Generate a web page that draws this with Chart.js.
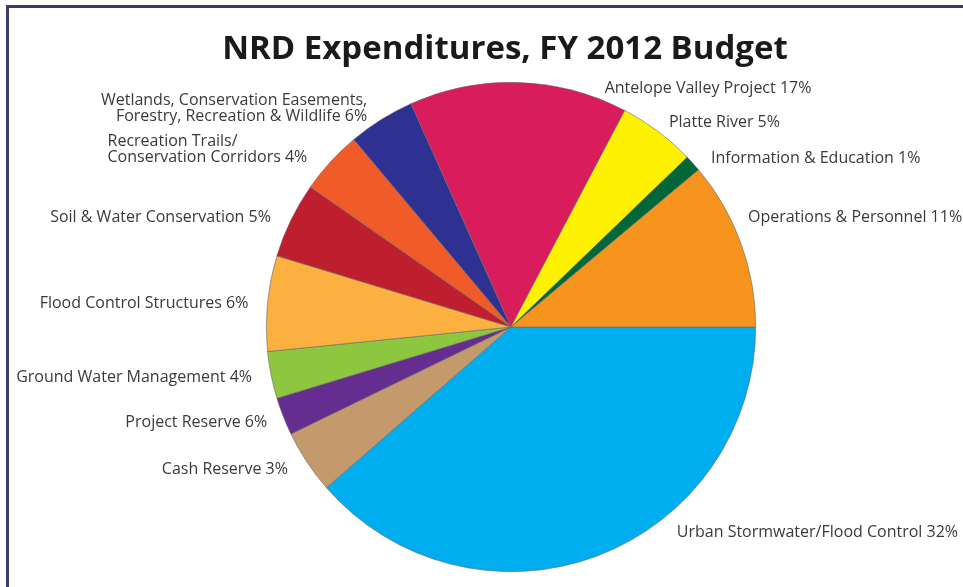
<!DOCTYPE html>
<html>
<head>
<meta charset="utf-8">
<script src="https://cdn.jsdelivr.net/npm/chart.js@4/dist/chart.umd.min.js"></script>
<style>
  html, body { margin: 0; padding: 0; background: #ffffff; }
  #wrap { position: relative; width: 963px; height: 587px; }
</style>
</head>
<body>
<div id="wrap"><canvas id="c" width="963" height="587"></canvas></div>
<script>
// ---- data (clockwise from 3 o'clock) ----
const categories = [
  "Urban Stormwater/Flood Control",
  "Cash Reserve",
  "Project Reserve",
  "Ground Water Management",
  "Flood Control Structures",
  "Soil & Water Conservation",
  "Recreation Trails/ Conservation Corridors",
  "Wetlands, Conservation Easements, Forestry, Recreation & Wildlife",
  "Antelope Valley Project",
  "Platte River",
  "Information & Education",
  "Operations & Personnel"
];
// slice sizes as drawn in the picture (share of the circle, %)
const sliceValues = [38.6, 4.2, 2.5, 3.1, 6.3, 5.0, 4.2, 4.4, 14.4, 5.1, 1.1, 11.1];
// percentages printed in the labels
const printedPercents = [32, 3, 6, 4, 6, 5, 4, 6, 17, 5, 1, 11];
// label text lines
const labelLines = [
  ["Urban Stormwater/Flood Control 32%"],
  ["Cash Reserve 3%"],
  ["Project Reserve 6%"],
  ["Ground Water Management 4%"],
  ["Flood Control Structures 6%"],
  ["Soil & Water Conservation 5%"],
  ["Recreation Trails/", "Conservation Corridors 4%"],
  ["Wetlands, Conservation Easements,", "Forestry, Recreation & Wildlife 6%"],
  ["Antelope Valley Project 17%"],
  ["Platte River 5%"],
  ["Information & Education 1%"],
  ["Operations & Personnel 11%"]
];
const titleText = "NRD Expenditures, FY 2012 Budget";

// ---- styles ----
const sliceColors = [
  "#00aeef", "#c49a6c", "#662d91", "#8dc63f", "#fbb040", "#be1e2d",
  "#f15a29", "#2e3192", "#d91c5c", "#fff200", "#006838", "#f7941d"
];
// label placement: offset from slice's outer mid-point, and alignment
const labelLayout = [
  { dx: 80, dy: -24, align: "left" },
  { dx: -19, dy: 7, align: "right" },
  { dx: -16, dy: 6, align: "right" },
  { dx: -19, dy: 2, align: "right" },
  { dx: -19, dy: 0, align: "right" },
  { dx: -20, dy: -3, align: "right" },
  { dx: -223, dy: -20, align: "left" },
  { dx: -14, dy: -19, align: "right" },
  { dx: 86, dy: 6, align: "left" },
  { dx: 11, dy: -9, align: "left" },
  { dx: 18, dy: -5, align: "left" },
  { dx: 7, dy: -26, align: "left" }
];

const LABEL_FONT = '16px "Open Sans", "DejaVu Sans", sans-serif';
const LINE_H = 15.5;

const decorPlugin = {
  id: "decor",
  beforeDraw(chart) {
    const ctx = chart.ctx;
    ctx.save();
    ctx.fillStyle = "#ffffff";
    ctx.fillRect(0, 0, chart.width, chart.height);
    ctx.restore();
  },
  afterDraw(chart) {
    const ctx = chart.ctx;
    ctx.save();
    // frame
    ctx.fillStyle = "#3a3a6c";
    ctx.fillRect(6, 5, chart.width - 6, 3);
    ctx.fillRect(6, 5, 3, chart.height - 5);
    // title
    ctx.fillStyle = "#1a1a1a";
    ctx.font = 'bold 33px "Open Sans", "DejaVu Sans", sans-serif';
    ctx.textAlign = "center";
    ctx.textBaseline = "middle";
    ctx.fillText(titleText, 505, 50);
    // labels
    const meta = chart.getDatasetMeta(0);
    ctx.font = LABEL_FONT;
    ctx.fillStyle = "#3a3a3a";
    ctx.textBaseline = "middle";
    meta.data.forEach((arc, i) => {
      const p = arc.getProps(["x", "y", "startAngle", "endAngle", "outerRadius"], true);
      const mid = (p.startAngle + p.endAngle) / 2;
      const ax = p.x + Math.cos(mid) * p.outerRadius + labelLayout[i].dx;
      const ay = p.y + Math.sin(mid) * p.outerRadius + labelLayout[i].dy;
      ctx.textAlign = labelLayout[i].align;
      labelLines[i].forEach((line, k) => {
        ctx.fillText(line, ax, ay + k * LINE_H);
      });
    });
    ctx.restore();
  }
};

new Chart(document.getElementById("c"), {
  type: "pie",
  data: {
    labels: categories,
    datasets: [{
      data: sliceValues,
      backgroundColor: sliceColors,
      borderColor: "#6a6a6a",
      borderWidth: 0.6
    }]
  },
  options: {
    responsive: false,
    animation: false,
    rotation: 90,
    layout: { padding: { top: 82, bottom: 15, left: 59, right: 0 } },
    plugins: {
      legend: { display: false },
      tooltip: { enabled: false },
      title: { display: false }
    }
  },
  plugins: [decorPlugin]
});
</script>
</body>
</html>
